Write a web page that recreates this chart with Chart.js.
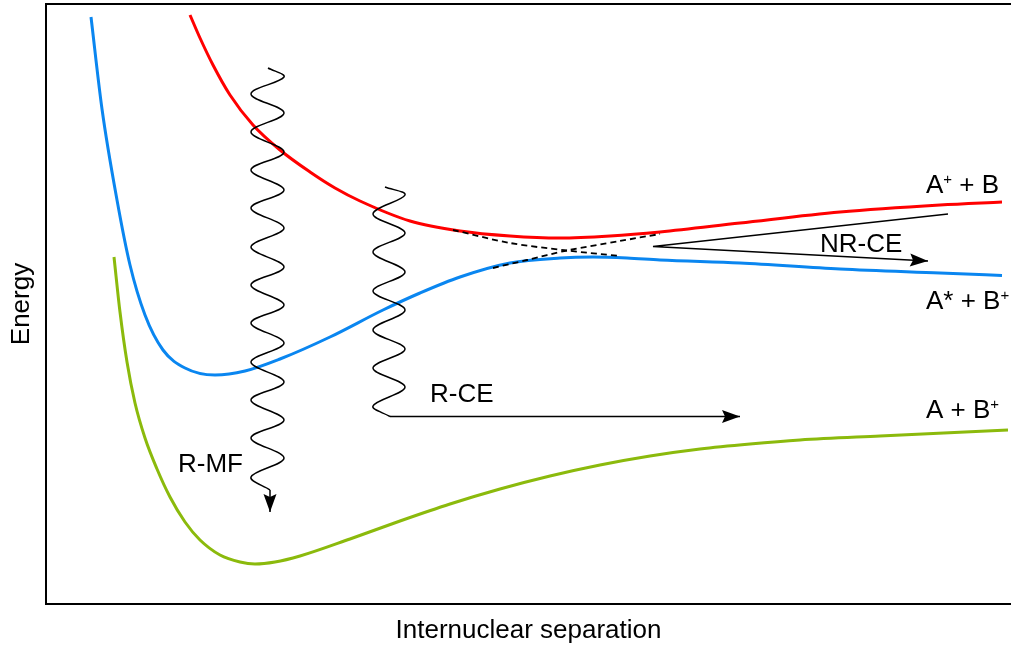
<!DOCTYPE html>
<html><head><meta charset="utf-8">
<script src="https://cdn.jsdelivr.net/npm/chart.js@4/dist/chart.umd.min.js"></script>
<style>html,body{margin:0;padding:0;background:#fff;} canvas{display:block;}</style>
</head><body>
<canvas id="c" width="1011" height="649"></canvas>
<script>
// ---- data (arbitrary units: separation x, energy y) ----
const stateIonA = [ // A+ + B (red)
  {x:144,y:589},{x:154,y:566},{x:167,y:539},{x:184,y:509},{x:207,y:479},{x:234,y:454},
  {x:264,y:432},{x:289,y:416},{x:314,y:403},{x:364,y:383},{x:414,y:373},{x:464,y:368},
  {x:514,y:366},{x:564,y:368},{x:614,y:372},{x:694,y:381},{x:794,y:392},{x:894,y:399},{x:956,y:402}];
const stateExcA = [ // A* + B+ (blue)
  {x:45,y:587},{x:56,y:495},{x:71,y:404},{x:84,y:339},{x:99,y:289},{x:117,y:254},
  {x:139,y:236},{x:169,y:229},{x:199,y:233},{x:234,y:245},{x:284,y:267},{x:337,y:294},
  {x:374,y:311},{x:414,y:327},{x:464,y:341},{x:514,y:346},{x:547,y:347},{x:581,y:346},
  {x:614,y:344},{x:694,y:341},{x:794,y:335},{x:894,y:331},{x:956,y:328.5}];
const stateIonB = [ // A + B+ (green)
  {x:68,y:347},{x:74,y:292},{x:81,y:242},{x:89,y:201},{x:99,y:166},{x:111,y:135},
  {x:124,y:107},{x:139,y:82},{x:154,y:64},{x:174,y:49},{x:194,y:42},{x:209,y:40},
  {x:229,y:42},{x:254,y:48},{x:304,y:65},{x:354,y:83},{x:404,y:100},{x:454,y:115},
  {x:504,y:128},{x:554,y:139},{x:604,y:148},{x:654,y:155},{x:704,y:160},{x:754,y:164},
  {x:834,y:168},{x:962,y:174}];
const diabaticDown = [{x:407,y:374},{x:464,y:361},{x:521,y:353.5},{x:574,y:348}];
const diabaticUp = [{x:447,y:336},{x:481,y:344},{x:521,y:353.5},{x:574,y:363},{x:614,y:370}];
const waveRMF = [
  {x:222,y:536},{x:238,y:527},{x:205,y:510},{x:238,y:491},{x:205,y:472},{x:238,y:452},
  {x:205,y:434},{x:238,y:414},{x:205,y:396},{x:238,y:376},{x:205,y:357},{x:238,y:337},
  {x:205,y:319},{x:238,y:299},{x:205,y:281},{x:238,y:261},{x:205,y:242},{x:238,y:222},
  {x:205,y:204},{x:238,y:184},{x:205,y:166},{x:238,y:146},{x:205,y:127},{x:224,y:114}];
const arrowRMF = [{x:224,y:114},{x:224,y:92}];
const waveRCE = [
  {x:339,y:417},{x:359,y:409},{x:327,y:390},{x:359,y:371},{x:327,y:352},{x:359,y:332},
  {x:327,y:313},{x:359,y:294},{x:327,y:274},{x:359,y:255},{x:327,y:236},{x:359,y:217},
  {x:327,y:198},{x:344,y:187.5}];
const arrowRCE = [{x:344,y:187.5},{x:694,y:187.5}];
const arrowNRCE = [{x:902,y:390},{x:607,y:357.5},{x:882,y:343}];

// ---- annotation labels (text parts; anchor in data units) ----
const labelTexts = [
  {parts:[['A'],['+',1],[' + B']], at:{x:880,y:411}},
  {parts:[['A* + B'],['+',1]], at:{x:880,y:295}},
  {parts:[['A + B'],['+',1]], at:{x:880,y:186}},
  {parts:[['NR-CE']], at:{x:774,y:352}},
  {parts:[['R-CE']], at:{x:384,y:202}},
  {parts:[['R-MF']], at:{x:132,y:132}}
];

const FONT = "'Liberation Sans', Arial, Helvetica, sans-serif";
const RED = '#ff0000', BLUE = '#0a86f0', GREEN = '#8bba0c';

const arrowPlugin = {
  id:'arrows',
  afterDatasetsDraw(chart){
    const c = chart.ctx;
    chart.data.datasets.forEach((ds,i)=>{
      if(!ds.arrow) return;
      const pts = chart.getDatasetMeta(i).data;
      const p1 = pts[pts.length-2], p2 = pts[pts.length-1];
      const a = Math.atan2(p2.y-p1.y, p2.x-p1.x);
      const L = 18, W = 6.5, N = 3;
      c.save();
      c.translate(p2.x,p2.y); c.rotate(a);
      c.beginPath();
      c.moveTo(0,0); c.lineTo(-L,-W); c.lineTo(-L+N,0); c.lineTo(-L,W); c.closePath();
      c.fillStyle='#000'; c.fill();
      c.restore();
    });
  }
};
const labelPlugin = {
  id:'labels',
  afterDatasetsDraw(chart){
    const c = chart.ctx, sx = chart.scales.x, sy = chart.scales.y;
    c.save();
    c.fillStyle = '#000'; c.textBaseline='alphabetic'; c.textAlign='left';
    labelTexts.forEach(l=>{
      let x = sx.getPixelForValue(l.at.x), y = sy.getPixelForValue(l.at.y);
      l.parts.forEach(p=>{
        if(p[1]){ c.font = '15px '+FONT; c.fillText(p[0], x, y-9); x += c.measureText(p[0]).width; }
        else { c.font = '26px '+FONT; c.fillText(p[0], x, y); x += c.measureText(p[0]).width; }
      });
    });
    c.restore();
  }
};

function curve(data,color){return {data, borderColor:color, borderWidth:3, pointRadius:0, cubicInterpolationMode:'monotone', order:2, fill:false};}
function black(data,opts){return Object.assign({data, borderColor:'#000', borderWidth:1.5, pointRadius:0, tension:0, order:1, fill:false}, opts||{});}

new Chart(document.getElementById('c'), {
  type:'line',
  data:{datasets:[
    black(waveRMF,{tension:0.36}),
    black(arrowRMF,{arrow:true}),
    black(waveRCE,{tension:0.36}),
    black(arrowRCE,{arrow:true}),
    black(arrowNRCE,{arrow:true, borderWidth:1.4}),
    black(diabaticDown,{borderDash:[6,4], borderWidth:1.8, tension:0.3}),
    black(diabaticUp,{borderDash:[6,4], borderWidth:1.8, tension:0.3}),
    curve(stateIonA,RED),
    curve(stateExcA,BLUE),
    curve(stateIonB,GREEN)
  ]},
  options:{
    responsive:false, animation:false, events:[],
    layout:{padding:0},
    plugins:{legend:{display:false}, tooltip:{enabled:false}},
    scales:{
      x:{type:'linear', min:0, max:965, position:'bottom',
        grid:{display:false, drawTicks:false}, ticks:{display:false},
        border:{display:true, color:'#000', width:2},
        title:{display:true, text:'Internuclear separation', color:'#000', font:{family:FONT, size:26}, padding:{top:0,bottom:3}},
        afterFit(s){ s.height = 45; }},
      x2:{type:'linear', position:'top', min:0, max:965,
        grid:{display:false, drawTicks:false}, ticks:{display:false},
        border:{display:true, color:'#000', width:2},
        afterFit(s){ s.height = 4; }},
      y:{type:'linear', min:0, max:600,
        grid:{display:false, drawTicks:false}, ticks:{display:false},
        border:{display:true, color:'#000', width:2},
        title:{display:true, text:'Energy', color:'#000', font:{family:FONT, size:26}, padding:{top:6,bottom:0}},
        afterFit(s){ s.width = 46; }}
    }
  },
  plugins:[arrowPlugin, labelPlugin]
});
</script>
</body></html>
